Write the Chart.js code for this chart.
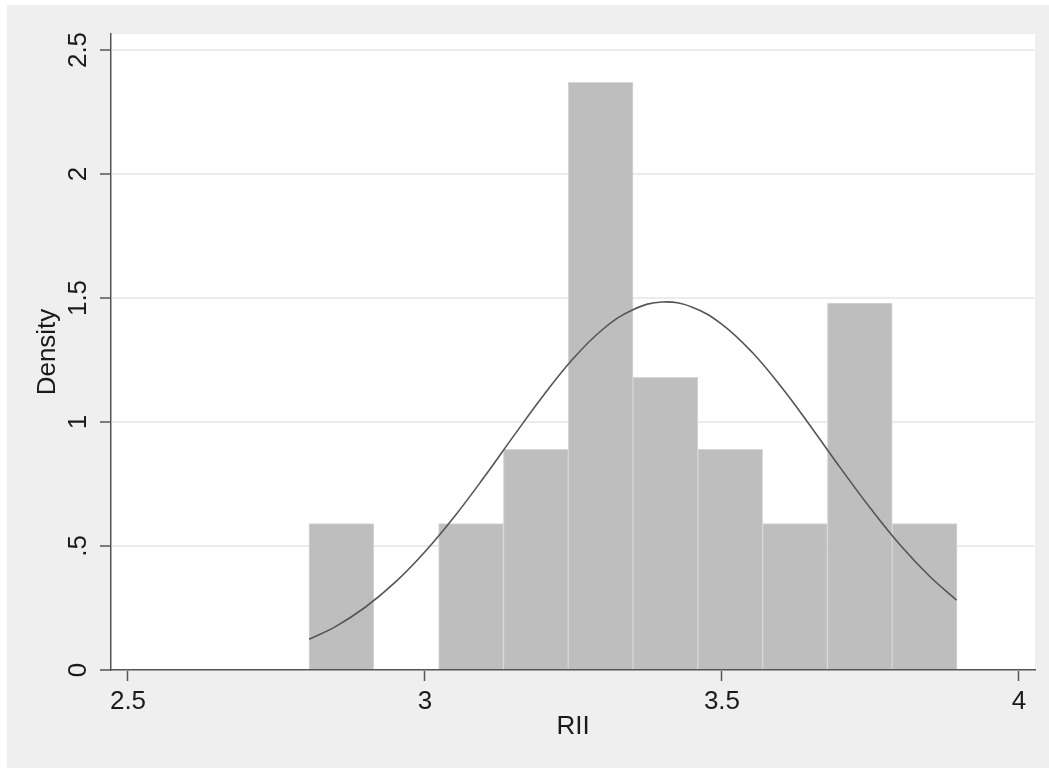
<!DOCTYPE html>
<html>
<head>
<meta charset="utf-8">
<script src="https://cdn.jsdelivr.net/npm/chart.js@4"></script>
<style>
  body { margin: 0; background: #fff; }
  canvas { display: block; }
</style>
</head>
<body>
<canvas id="myChart" width="1049" height="769"></canvas>
<script>
// histogram bins (centres) and their densities
const binCenters = [2.8593, 2.9684, 3.0775, 3.1866, 3.2957, 3.4048, 3.5139, 3.6230, 3.7321, 3.8412];
const densities = [0.59, 0, 0.59, 0.89, 2.37, 1.18, 0.89, 0.59, 1.48, 0.59];

// normal density overlay
const curveX = [2.805, 2.85, 2.90, 2.95, 3.00, 3.05, 3.10, 3.15, 3.20, 3.25, 3.30, 3.35, 3.40,
    3.45, 3.50, 3.55, 3.60, 3.65, 3.70, 3.75, 3.80, 3.85, 3.895];
const curveY = [0.124, 0.176, 0.254, 0.354, 0.477, 0.620, 0.779, 0.946, 1.109, 1.257, 1.375, 1.453, 1.484,
    1.463, 1.394, 1.283, 1.141, 0.980, 0.813, 0.652, 0.504, 0.377, 0.282];

const xTickValues = [2.5, 3, 3.5, 4];
const xTickLabels = ['2.5', '3', '3.5', '4'];
const yTickValues = [0, 0.5, 1, 1.5, 2, 2.5];
const yTickLabels = ['0', '.5', '1', '1.5', '2', '2.5'];

const fontFamily = '"Liberation Sans", Arial, sans-serif';
const axisColor = '#555';

const backdrop = {
    id: 'backdrop',
    beforeDraw(chart) {
        const c = chart.ctx;
        const a = chart.chartArea;
        c.save();
        c.fillStyle = '#fff';
        c.fillRect(0, 0, chart.width, chart.height);
        c.fillStyle = '#efefef';
        c.fillRect(7, 5, chart.width - 7, chart.height - 6);
        c.fillStyle = '#fff';
        c.fillRect(a.left, a.top, a.right - a.left, a.bottom - a.top);
        c.restore();
    }
};

let ctx = document.getElementById('myChart').getContext('2d');

let myChart = new Chart(ctx, {
    type: 'bar',
    data: {
        datasets: [{
            type: 'line',
            data: curveX.map((x, i) => ({ x: x, y: curveY[i] })),
            borderColor: '#555',
            borderWidth: 1.6,
            pointRadius: 0,
            tension: 0.4,
            fill: false,
            order: 0
        }, {
            type: 'bar',
            data: binCenters.map((x, i) => ({ x: x, y: densities[i] })),
            backgroundColor: '#bebebe',
            borderColor: '#d6d6d6',
            borderWidth: 1,
            barPercentage: 1,
            categoryPercentage: 1,
            order: 1
        }]
    },
    options: {
        responsive: false,
        animation: false,
        devicePixelRatio: 1,
        layout: { padding: { left: 0, top: 34, right: 14, bottom: 0 } },
        plugins: {
            legend: { display: false },
            tooltip: { enabled: false }
        },
        scales: {
            x: {
                type: 'linear',
                min: 2.4714,
                max: 4.027,
                offset: false,
                afterFit: (scale) => { scale.height = 99; },
                afterBuildTicks: (scale) => { scale.ticks = xTickValues.map(v => ({ value: v })); },
                grid: {
                    offset: false,
                    drawOnChartArea: false,
                    drawTicks: true,
                    tickLength: 11,
                    tickWidth: 1.5,
                    tickColor: axisColor
                },
                border: { color: axisColor, width: 1.5 },
                ticks: {
                    autoSkip: false,
                    maxRotation: 0,
                    padding: 8,
                    color: '#1a1a1a',
                    font: { family: fontFamily, size: 26, lineHeight: 1 },
                    callback: (v) => xTickLabels[xTickValues.indexOf(v)]
                },
                title: {
                    display: true,
                    text: 'RII',
                    color: '#1a1a1a',
                    font: { family: fontFamily, size: 26, lineHeight: 1 },
                    padding: { top: 0, bottom: 29 }
                }
            },
            y: {
                type: 'linear',
                min: 0,
                max: 2.5645,
                afterFit: (scale) => { scale.width = 111; },
                afterBuildTicks: (scale) => { scale.ticks = yTickValues.map(v => ({ value: v })); },
                grid: {
                    color: '#ececec',
                    lineWidth: 2,
                    drawTicks: true,
                    tickLength: 11,
                    tickWidth: 1.5,
                    tickColor: axisColor
                },
                border: { color: axisColor, width: 1.5 },
                ticks: {
                    autoSkip: false,
                    minRotation: 90,
                    maxRotation: 90,
                    crossAlign: 'center',
                    padding: 3,
                    color: '#1a1a1a',
                    font: { family: fontFamily, size: 26, lineHeight: 1 },
                    callback: (v) => yTickLabels[yTickValues.indexOf(v)]
                },
                title: {
                    display: true,
                    text: 'Density',
                    color: '#1a1a1a',
                    font: { family: fontFamily, size: 26, lineHeight: 1 },
                    padding: { top: 35, bottom: 0 }
                }
            }
        }
    },
    plugins: [backdrop]
});
</script>
</body>
</html>
